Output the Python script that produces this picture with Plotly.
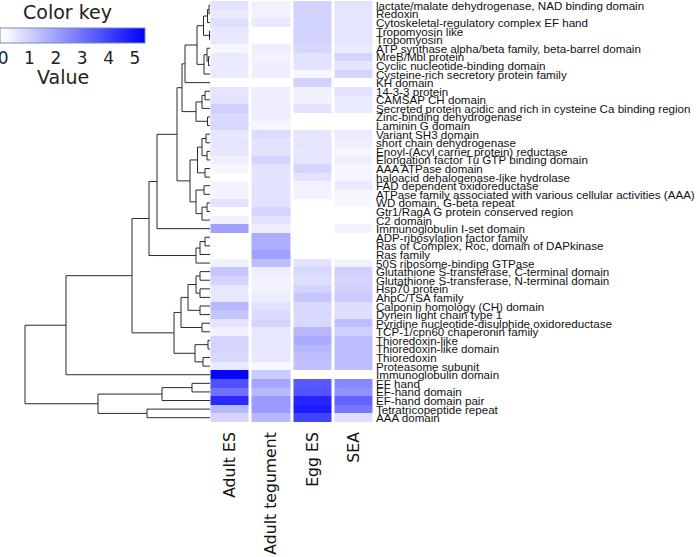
import plotly.graph_objects as go

row_labels = [
    "lactate/malate dehydrogenase, NAD binding domain", "Redoxin",
    "Cytoskeletal-regulatory complex EF hand", "Tropomyosin like", "Tropomyosin",
    "ATP synthase alpha/beta family, beta-barrel domain", "MreB/Mbl protein",
    "Cyclic nucleotide-binding domain", "Cysteine-rich secretory protein family",
    "KH domain", "14-3-3 protein", "CAMSAP CH domain",
    "Secreted protein acidic and rich in cysteine Ca binding region",
    "Zinc-binding dehydrogenase", "Laminin G domain", "Variant SH3 domain",
    "short chain dehydrogenase", "Enoyl-(Acyl carrier protein) reductase",
    "Elongation factor Tu GTP binding domain", "AAA ATPase domain",
    "haloacid dehalogenase-like hydrolase", "FAD dependent oxidoreductase",
    "ATPase family associated with various cellular activities (AAA)",
    "WD domain, G-beta repeat", "Gtr1/RagA G protein conserved region", "C2 domain",
    "Immunoglobulin I-set domain", "ADP-ribosylation factor family",
    "Ras of Complex, Roc, domain of DAPkinase", "Ras family",
    "50S ribosome-binding GTPase", "Glutathione S-transferase, C-terminal domain",
    "Glutathione S-transferase, N-terminal domain", "Hsp70 protein", "AhpC/TSA family",
    "Calponin homology (CH) domain", "Dynein light chain type 1",
    "Pyridine nucleotide-disulphide oxidoreductase", "TCP-1/cpn60 chaperonin family",
    "Thioredoxin-like", "Thioredoxin-like domain", "Thioredoxin", "Proteasome subunit",
    "Immunoglobulin domain", "EF hand", "EF-hand domain", "EF-hand domain pair",
    "Tetratricopeptide repeat", "AAA domain",
]
col_labels = ["Adult ES", "Adult tegument", "Egg ES", "SEA"]

adult_es = [0.6, 0.45, 0.7, 0.5, 0.5, 0.2, 0.45, 0.45, 0.45, 0,
            0.55, 0.6, 1.0, 0.8, 0.8, 0.5, 0.55, 0.5, 0.35, 0.2,
            0, 0.25, 0.25, 0.6, 0, 0.3, 2.0, 0, 0, 0,
            0.3, 1.2, 0.9, 0.5, 0.5, 1.5, 1.2, 0.6, 0.3, 0.9,
            0.9, 0.8, 0.45, 5.3, 3.7, 3.0, 4.5, 1.5, 0.9]
adult_tegument = [0.3, 0.3, 0.45, 0, 0, 0.35, 0.25, 0.35, 0.35, 0,
                  0.35, 0.35, 0.35, 0.35, 0.2, 0.75, 0.6, 0.6, 0.9, 0.6,
                  0.6, 0.6, 0.6, 0.6, 0.9, 0.6, 0.35, 1.7, 1.7, 2.0,
                  1.4, 0.35, 0.3, 0.3, 0.4, 0.6, 0.75, 0.9, 0.5, 0.5,
                  0.5, 0.5, 0.15, 1.1, 1.9, 1.5, 2.1, 2.1, 1.5]
egg_es = [0.95, 0.95, 0.95, 0.95, 0.95, 0.85, 0.6, 0.6, 0.2, 0.95,
          0.3, 0.3, 0.6, 0, 0, 0.55, 0.55, 0.5, 0.55, 0.9,
          0.6, 0.3, 0.3, 0, 0, 0, 0, 0, 0, 0,
          0.6, 0.8, 0.7, 0.9, 1.2, 0.8, 0.8, 0.8, 1.5, 1.8,
          1.5, 1.4, 1.3, 0, 3.5, 3.6, 4.6, 4.8, 4.0]
sea = [0.6, 0.55, 0.55, 0.55, 0.55, 0.45, 0.9, 0.55, 0.9, 0,
       0.6, 0.4, 0.4, 0, 0, 0.45, 0.35, 0.2, 0.35, 0.2,
       0.2, 0.45, 0.2, 0.2, 0, 0, 0.25, 0, 0, 0,
       0.3, 1.0, 0.9, 1.0, 1.1, 0.7, 0.7, 1.4, 1.0, 1.4,
       1.4, 1.4, 1.4, 0, 2.5, 2.3, 3.3, 2.9, 0.7]

key_ticks = [0, 1, 2, 3, 4, 5]
key_min, key_max = -0.12, 5.38

# Row dendrogram as nested (merge height, left, right); leaves are row indices
top_group = (25,
             (13,
              (6.5, (2.5, (1, 0, 1), 2), (0.5, 3, 4)),
              (6, (3, 5, (1.5, 6, 7)), 8)),
             9)
mid_group = (14, (8, (5, 10, 11), 12), (2.5, 13, 14))
low_group = (20,
             (12.5, (8, (4, 15, 16), (3, 17, 18)), (5, 19, 20)),
             (14, (6, 21, 22), (8, (3, 23, 24), 25)))
ras_group = (14, (10, (5, 27, 28), 29), 30)
thio_group = (36,
              (29,
               (22, (14, (10, 31, 32), (10, 33, 34)), (10, 35, 36)),
               (8, 37, 38)),
              (15, (2, 39, 40), (7, 41, 42)))
ef_group = (112, (48, (18, 44, 45), 46), (63, 47, 48))

row_tree = (185,
            (144,
             (78,
              (61,
               (53, (33, (28, top_group, mid_group), low_group), 26),
               ras_group),
              thio_group),
             43),
            ef_group)

W, H = 700, 557
heat_left, heat_right = 209.5, 374.5
heat_top, heat_bottom = 1, 422
dend_right = 210

z = [[a, b, c, d] for a, b, c, d in zip(adult_es, adult_tegument, egg_es, sea)]
n = len(row_labels)

dx, dy = [], []


def walk(node):
    if isinstance(node, int):
        return float(node), 0.0
    h, left, right = node
    yl, hl = walk(left)
    yr, hr = walk(right)
    dx.extend([hl, h, h, hr, None])
    dy.extend([yl, yl, yr, yr, None])
    return (yl + yr) / 2, h


walk(row_tree)

ydom = [1 - heat_bottom / H, 1 - heat_top / H]
zero_frac = (0 - key_min) / (key_max - key_min)
font_sans = "DejaVu Sans"

fig = go.Figure()
fig.add_trace(go.Heatmap(
    z=z, x=list(range(4)), y=list(range(n)),
    zmin=key_min, zmax=key_max,
    colorscale=[[0, "#ffffff"], [zero_frac, "#ffffff"], [1, "#0000ff"]],
    xgap=3, ygap=0,
    colorbar=dict(
        orientation="h", x=0, xanchor="left",
        y=1 - 28 / H, yanchor="top",
        len=145, lenmode="pixels", thickness=15, thicknessmode="pixels",
        outlinecolor="#6f8fb8", outlinewidth=1,
        tickvals=key_ticks, ticks="", ticklabelposition="outside bottom",
        ticklabeloverflow="allow",
        tickfont=dict(family=font_sans, size=17, color="#222"),
        xpad=0, ypad=0,
    ),
))
fig.add_trace(go.Scatter(
    x=dx, y=dy, mode="lines", xaxis="x2", yaxis="y2",
    line=dict(color="#2a2a2a", width=1), hoverinfo="skip", showlegend=False,
))

annotations = [
    dict(text="Color key", x=67 / W, y=1 - 12 / H, xref="paper", yref="paper",
         xanchor="center", yanchor="middle", showarrow=False,
         font=dict(family=font_sans, size=19, color="#222")),
    dict(text="Value", x=63 / W, y=1 - 77 / H, xref="paper", yref="paper",
         xanchor="center", yanchor="middle", showarrow=False,
         font=dict(family=font_sans, size=19, color="#222")),
]
for i, lab in enumerate(row_labels):
    annotations.append(dict(
        text=lab, x=374 / W, y=i, xref="paper", yref="y", xanchor="left",
        yanchor="middle", showarrow=False,
        font=dict(family="Liberation Sans", size=11.6, color="#111"),
    ))

fig.update_layout(
    width=W, height=H, margin=dict(l=0, r=0, t=0, b=0, autoexpand=False),
    paper_bgcolor="white", plot_bgcolor="white", showlegend=False,
    annotations=annotations,
    xaxis=dict(domain=[heat_left / W, heat_right / W], range=[-0.5, 3.5],
               tickvals=list(range(4)), ticktext=col_labels, tickangle=-90,
               showgrid=False, zeroline=False, ticks="", showline=False,
               automargin=False, ticklabelstandoff=6,
               tickfont=dict(family=font_sans, size=15.7, color="#111")),
    yaxis=dict(domain=ydom, range=[n - 0.5, -0.5], showticklabels=False,
               showgrid=False, zeroline=False, ticks="", showline=False,
               automargin=False),
    xaxis2=dict(domain=[0, dend_right / W], range=[dend_right, 0],
                visible=False, showgrid=False, zeroline=False, automargin=False),
    yaxis2=dict(domain=ydom, range=[n - 0.5, -0.5], anchor="x2",
                visible=False, showgrid=False, zeroline=False, automargin=False),
)

fig.write_html("out.html", config={"displayModeBar": False},
               post_script="document.body.style.margin='0';"
                           "document.body.style.overflow='hidden';")
